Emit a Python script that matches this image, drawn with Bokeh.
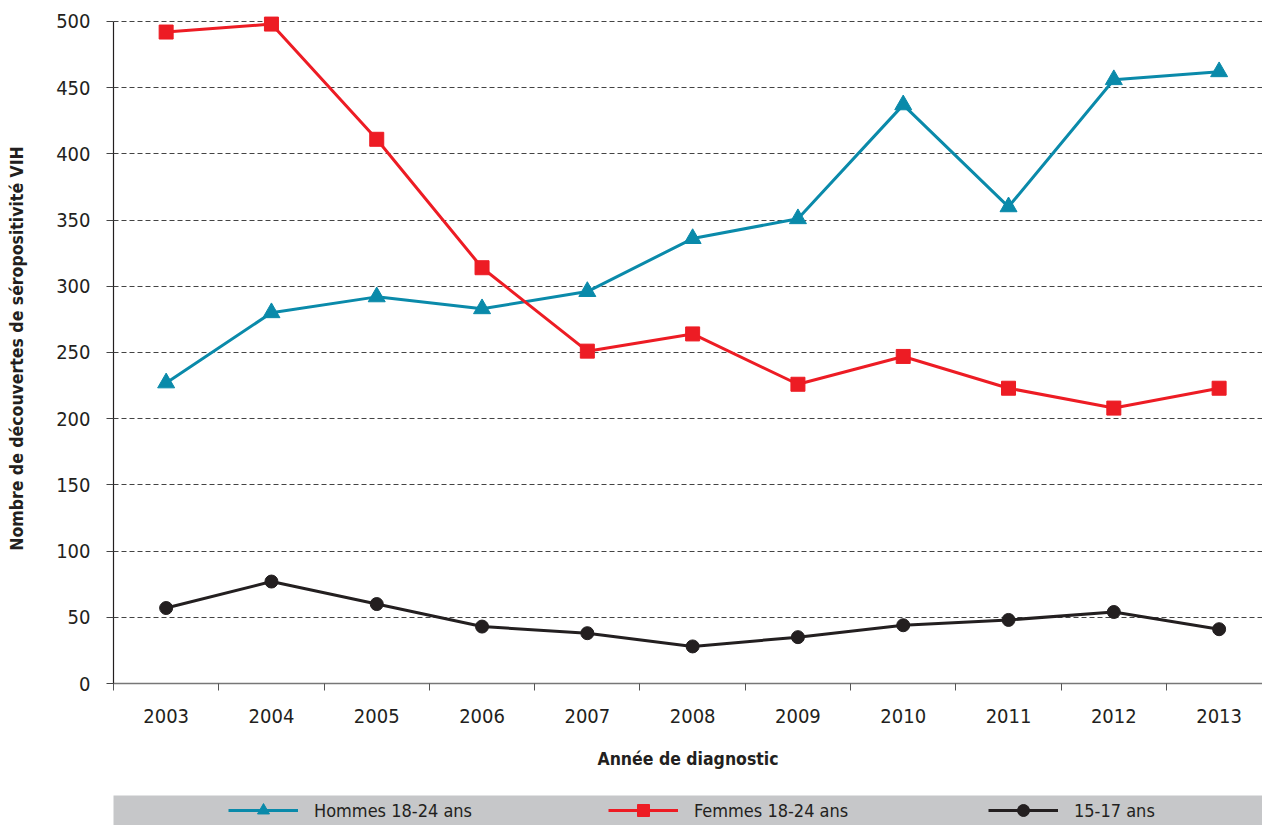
from bokeh.plotting import figure
from bokeh.layouts import column
from bokeh.models import FixedTicker, Legend, LegendItem, Range1d
from bokeh.embed import file_html
from bokeh.resources import INLINE

# ---------------- data ----------------
years = [2003, 2004, 2005, 2006, 2007, 2008, 2009, 2010, 2011, 2012, 2013]
hommes_18_24 = [227, 280, 292, 283, 296, 336, 351, 437, 360, 456, 462]
femmes_18_24 = [492, 498, 411, 314, 251, 264, 226, 247, 223, 208, 223]
ages_15_17 = [57, 77, 60, 43, 38, 28, 35, 44, 48, 54, 41]
y_ticks = [0, 50, 100, 150, 200, 250, 300, 350, 400, 450, 500]
series_labels = ["Hommes 18-24 ans", "Femmes 18-24 ans", "15-17 ans"]
x_title = "Année de diagnostic"
y_title = "Nombre de découvertes de séropositivité VIH"

FONT = "DejaVu Sans Condensed"
TEAL = "#0a8aaa"
RED = "#ed1c24"
BLACK = "#231f20"
TXT = "#231f20"
BAND = "#c6c7c9"

p = figure(width=1262, height=795, output_backend="svg", toolbar_location=None,
           x_range=Range1d(2002.5, 2013.412), y_range=Range1d(0, 506),
           min_border_left=113, min_border_right=0, min_border_top=13,
           min_border_bottom=112)
p.outline_line_color = None
p.background_fill_color = "white"
p.border_fill_color = "white"

# x axis: labels at years, tick marks between years
xa = p.xaxis[0]
xa.ticker = FixedTicker(ticks=years,
                        minor_ticks=[y - 0.5 for y in years] + [years[-1] + 0.5])
xa.major_tick_out = 0
xa.major_tick_in = 0
xa.minor_tick_out = 7
xa.minor_tick_in = 0
xa.minor_tick_line_color = "#555555"
xa.axis_line_color = "#777777"
xa.axis_line_width = 1.5
xa.major_label_standoff = 18
xa.major_label_text_font = FONT
xa.major_label_text_font_size = "20px"
xa.major_label_text_color = TXT
xa.axis_label = x_title
xa.axis_label_text_font = FONT
xa.axis_label_text_font_style = "bold"
xa.axis_label_text_font_size = "17.5px"
xa.axis_label_text_color = TXT
xa.axis_label_standoff = 23

ya = p.yaxis[0]
ya.ticker = FixedTicker(ticks=y_ticks)
ya.bounds = (0, 500)
ya.major_tick_out = 7
ya.major_tick_in = 0
ya.minor_tick_out = 0
ya.minor_tick_in = 0
ya.major_tick_line_color = "#444444"
ya.axis_line_color = TXT
ya.axis_line_width = 1.2
ya.major_label_standoff = 16
ya.major_label_text_font = FONT
ya.major_label_text_font_size = "20px"
ya.major_label_text_color = TXT
ya.axis_label = y_title
ya.axis_label_text_font = FONT
ya.axis_label_text_font_style = "bold"
ya.axis_label_text_font_size = "17.5px"
ya.axis_label_text_color = TXT
ya.axis_label_standoff = 26

p.xgrid.visible = False
p.ygrid.ticker = FixedTicker(ticks=y_ticks[1:])
p.ygrid.grid_line_color = "#444444"
p.ygrid.grid_line_dash = "5 3"
p.ygrid.grid_line_width = 1

series = [(hommes_18_24, TEAL, "triangle", 17),
          (femmes_18_24, RED, "square", 14),
          (ages_15_17, BLACK, "circle", 13)]
for vals, col, mk, sz in series:
    p.line(years, vals, line_color=col, line_width=3)
    p.scatter(years, vals, marker=mk, size=sz, color=col)

# ---- legend band (separate strip under the chart) ----
# the band's ranges lie outside the data, so its proxy glyphs only show in the legend
band = figure(width=1262, height=30, output_backend="svg", toolbar_location=None,
              x_axis_type=None, y_axis_type=None,
              x_range=Range1d(0, 1), y_range=Range1d(0, 1),
              min_border_left=113, min_border_right=0, min_border_top=0,
              min_border_bottom=0)
band.outline_line_color = None
band.grid.visible = False
band.background_fill_color = BAND
band.border_fill_color = "white"

items = []
for label, (vals, col, mk, sz) in zip(series_labels, series):
    lr = band.line(years, vals, line_color=col, line_width=3)
    sr = band.scatter(years, vals, marker=mk, size=sz, color=col)
    items.append(LegendItem(label=label, renderers=[lr, sr]))

legend = Legend(items=items, location=(115, 0), orientation="horizontal",
                background_fill_alpha=0, border_line_color=None,
                padding=0, margin=0,
                glyph_width=70, glyph_height=30, label_height=30,
                label_width=280, label_standoff=16, spacing=14,
                label_text_font=FONT, label_text_font_size="18px",
                label_text_color=TXT)
band.add_layout(legend)

layout = column(p, band, spacing=0)
open("out.html", "w").write(file_html(layout, INLINE))
